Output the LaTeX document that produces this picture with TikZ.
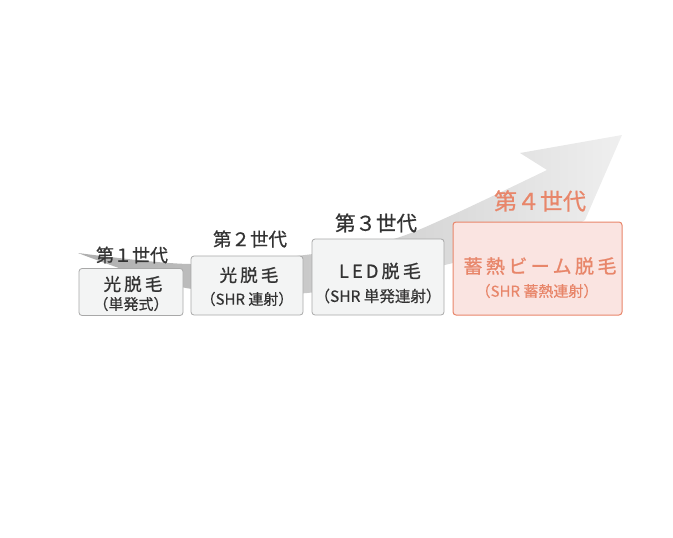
\documentclass[tikz,border=0pt]{standalone}
\usepackage{fontspec}
\setmainfont{Noto Sans CJK JP}
\newfontfamily\jpwide[LetterSpace=18,FakeBold=1.1]{Noto Sans CJK JP}
\newfontfamily\jpmid[FakeBold=0.8]{Noto Sans CJK JP}
\newfontfamily\jpsub[FakeBold=0.4]{Noto Sans CJK JP}
\usepackage{tikz}

\definecolor{arrowdark}{HTML}{AEAEAE}
\definecolor{arrowlight}{HTML}{EFEFEF}
\definecolor{boxfill}{HTML}{F3F4F4}
\definecolor{boxline}{HTML}{A8A8A8}
\definecolor{textdark}{HTML}{333333}
\definecolor{salmon}{HTML}{E8866A}
\definecolor{pinkfill}{HTML}{FAE4E1}

\newcommand\fsize[1]{\fontsize{#1}{#1}\selectfont}

\tikzset{
  genbox/.style={draw=boxline, fill=boxfill, line width=0.8pt, rounded corners=3pt, inner sep=0pt},
  topbox/.style={draw=salmon, fill=pinkfill, line width=1pt, rounded corners=3pt, inner sep=0pt},
  gentext/.style={text=textdark, inner sep=0pt},
  toptext/.style={text=salmon, inner sep=0pt}
}

\begin{document}
\begin{tikzpicture}[x=1pt,y=-1pt]
    \useasboundingbox (0,0) rectangle (673,538);

    % draw arrow
    \shade[left color=arrowdark, right color=arrowlight]
      plot[smooth] coordinates {(78,253) (190,264) (305,255) (390,240) (450,216) (547,170)}
      -- (520,153) -- (622,135) -- (585,220) -- (572,228)
      -- plot[smooth] coordinates {(572,228) (449,264) (307,293) (186,288) (78,253)}
      -- cycle;

    % draw boxes
    \node[genbox, minimum width=104pt, minimum height=47pt] (box1) at (131,292) {};
    \node[genbox, minimum width=112pt, minimum height=59pt] (box2) at (247,285.5) {};
    \node[genbox, minimum width=132pt, minimum height=76pt] (box3) at (378,277) {};
    \node[topbox, minimum width=169pt, minimum height=93pt] (box4) at (537.5,268.5) {};

    % draw generation labels
    \node[gentext, font=\jpmid\fsize{18}] (gen1) at (132,255) {第１世代};
    \node[gentext, font=\jpmid\fsize{18.5}] (gen2) at (250,239) {第２世代};
    \node[gentext, font=\jpmid\fsize{20.5}] (gen3) at (376,223) {第３世代};
    \node[toptext, font=\jpmid\fsize{23}] (gen4) at (540,201) {第４世代};

    % draw box texts
    \node[gentext, font=\jpwide\fsize{17.5}] (name1) at (133,284) {光脱毛};
    \node[gentext, font=\jpsub\fsize{15}] (sub1) at (131,304) {（単発式）};
    \node[gentext, font=\jpwide\fsize{17.5}] (name2) at (249,275) {光脱毛};
    \node[gentext, font=\jpsub\fsize{15}] (sub2) at (247,299) {（SHR 連射）};
    \node[gentext, font=\jpwide\fsize{18}] (name3) at (380,271) {LED脱毛};
    \node[gentext, font=\jpsub\fsize{15.5}] (sub3) at (378,296) {（SHR 単発連射）};
    \node[toptext, font=\jpwide\fsize{19}] (name4) at (540,266) {蓄熱ビーム脱毛};
    \node[toptext, font=\jpsub\fsize{15}] (sub4) at (537,291) {（SHR 蓄熱連射）};

  \end{tikzpicture}
\end{document}
